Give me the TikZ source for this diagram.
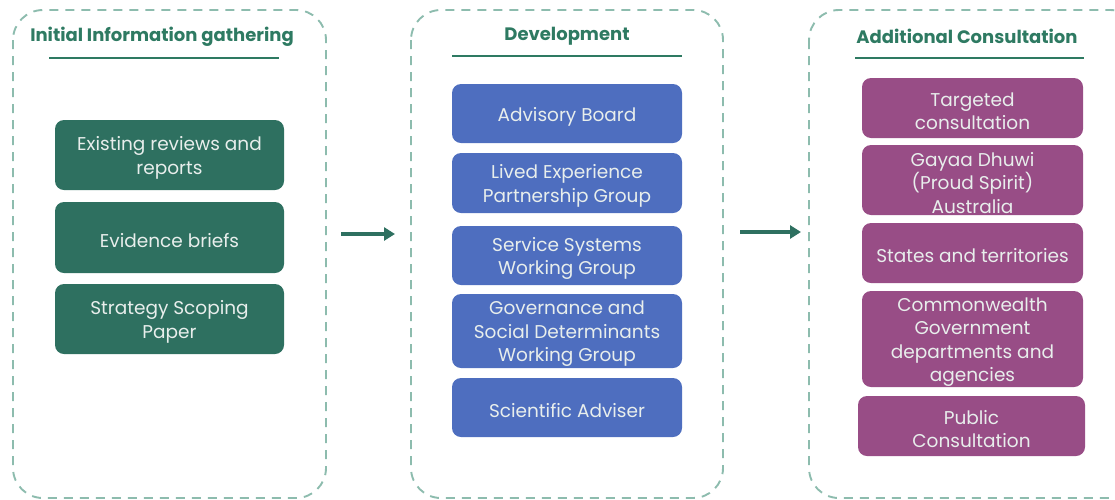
\documentclass[tikz,border=0pt]{standalone}
\usepackage{fontspec}
\setmainfont{Poppins}
\usetikzlibrary{arrows.meta}
\definecolor{gbox}{HTML}{2E7060}
\definecolor{bbox}{HTML}{4E6EBF}
\definecolor{pbox}{HTML}{984D86}
\definecolor{dashc}{HTML}{8DBCAE}
\definecolor{titc}{HTML}{2E7A62}
\definecolor{boxtext}{HTML}{E8EEEC}
\tikzset{
  container/.style={draw=dashc, line width=1.9pt, dash pattern=on 9pt off 7pt, rounded corners=30pt},
  card/.style={rounded corners=9pt, text=boxtext, align=center, font=\fontsize{18.5}{23.5}\selectfont, inner sep=0pt},
  gcard/.style={card, fill=gbox},
  bcard/.style={card, fill=bbox},
  pcard/.style={card, fill=pbox},
  title/.style={text=titc, font=\fontsize{18}{21}\selectfont\bfseries},
  uline/.style={draw=titc, line width=1.3pt},
  flow/.style={draw=gbox, line width=3.6pt, -{Triangle[length=11pt,width=13pt]}}
}
\begin{document}
\begin{tikzpicture}[x=1pt,y=-1pt]
\useasboundingbox (0,0) rectangle (1115,499);
\begin{scope}
\clip (0,0) rectangle (1115,499);
\draw[container] (13,10) rectangle (326,498);
\draw[container] (411,10) rectangle (723,498);
\draw[container] (809,10) rectangle (1140,498);
\end{scope}

\node[title] (t1) at (162,36.5) {Initial Information gathering};
\node[title] (t2) at (567,36.5) {Development};
\node[title] (t3) at (967,36.5) {Additional Consultation};
\draw[uline] (49,58) -- (279,58);
\draw[uline] (452,56) -- (682,56);
\draw[uline] (855,58) -- (1084,58);

% green
\path[gcard] (55,120) rectangle (284,190);
\node[card] (g1) at (169.5,158) {Existing reviews and\\reports};
\path[gcard] (55,202) rectangle (284,273);
\node[card] (g2) at (169.5,240.5) {Evidence briefs};
\path[gcard] (55,284) rectangle (284,354);
\node[card] (g3) at (169.5,322) {Strategy Scoping\\Paper};

% blue
\path[bcard] (452,84) rectangle (682,143);
\node[card] (b1) at (567,116.5) {Advisory Board};
\path[bcard] (452,153) rectangle (682,213);
\node[card] (b2) at (567,186) {Lived Experience\\Partnership Group};
\path[bcard] (452,226) rectangle (682,285);
\node[card] (b3) at (567,258.5) {Service Systems\\Working Group};
\path[bcard] (452,294) rectangle (682,368);
\node[card] (b4) at (567,334) {Governance and\\Social Determinants\\Working Group};
\path[bcard] (452,378) rectangle (682,437);
\node[card] (b5) at (567,410.5) {Scientific Adviser};

% purple
\path[pcard] (862,78) rectangle (1083,138);
\node[card] (p1) at (972.5,111) {Targeted\\consultation};
\path[pcard] (862,145) rectangle (1083,215);
\node[card] (p2) at (972.5,183) {Gayaa Dhuwi\\(Proud Spirit)\\Australia};
\path[pcard] (862,223) rectangle (1083,283);
\node[card] (p3) at (972.5,256) {States and territories};
\path[pcard] (862,291) rectangle (1083,387);
\node[card] (p4) at (972.5,342) {Commonwealth\\Government\\departments and\\agencies};
\path[pcard] (858,396) rectangle (1085,456);
\node[card] (p5) at (971.5,429) {Public\\Consultation};

\coordinate (a1s) at (341,234);
\coordinate (a1e) at (395,234);
\coordinate (a2s) at (740,232);
\coordinate (a2e) at (801,232);
\draw[flow] (a1s) -- (a1e);
\draw[flow] (a2s) -- (a2e);
\end{tikzpicture}
\end{document}
